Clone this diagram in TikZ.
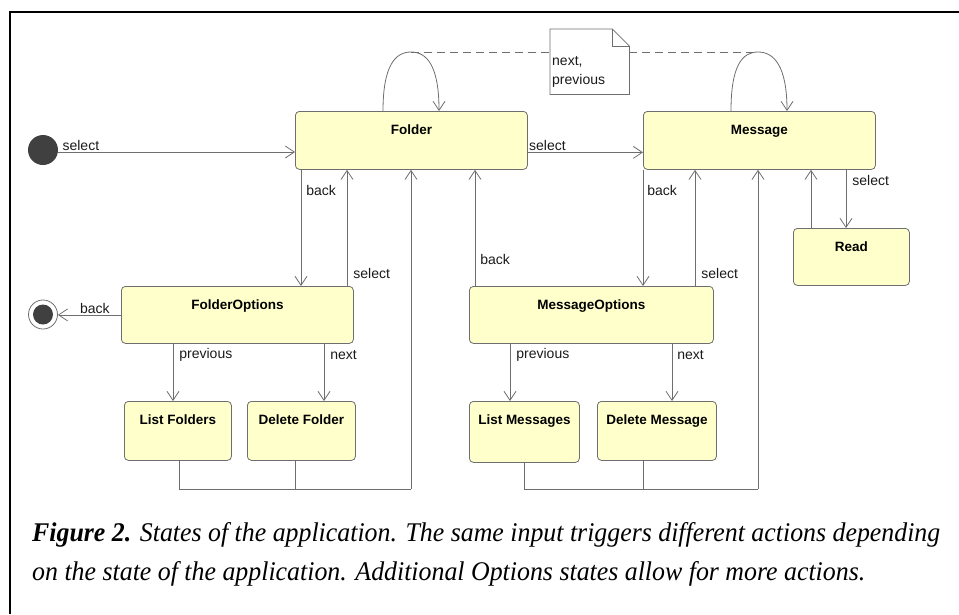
\documentclass[tikz,border=0pt]{standalone}
\usepackage{fontspec}
\setmainfont{Liberation Serif}
\newfontfamily\diagfont{Liberation Sans}
\usetikzlibrary{arrows.meta,calc}
\definecolor{statefill}{HTML}{FFFFCC}
\definecolor{edgegray}{HTML}{6E6E6E}
\definecolor{dotgray}{HTML}{404040}
\definecolor{labelink}{HTML}{1A1A1A}
\begin{document}
\begin{tikzpicture}[x=1pt,y=-1pt,
  state/.style={draw=edgegray, fill=statefill, rounded corners=4pt, anchor=north west,
    inner xsep=0pt, inner ysep=0pt, text height=23pt, line width=0.8pt,
    font=\diagfont\fontsize{13.5}{15}\selectfont\bfseries},
  arr/.style={draw=edgegray, line width=0.8pt, -{Straight Barb[length=9pt,width=12pt]}},
  wire/.style={draw=edgegray, line width=0.8pt},
  lbl/.style={inner sep=1pt, text=labelink, font=\diagfont\fontsize{14}{19}\selectfont},
  notelink/.style={draw=edgegray, line width=0.8pt, dash pattern=on 8pt off 5pt},
  caption/.style={inner sep=0pt, anchor=base west, font=\fontsize{27}{32}\selectfont\itshape}
]
\useasboundingbox (0,0) rectangle (959,614);

% frame
\draw[line width=2pt] (10,614) -- (10,12) -- (959,12);

% states
\node[state, minimum width=232pt, minimum height=58pt, text depth=35pt] (folder) at (295,111) {Folder};
\node[state, minimum width=232pt, minimum height=58pt, text depth=35pt] (message) at (643,111) {Message};
\node[state, minimum width=116pt, minimum height=57pt, text depth=34pt] (read) at (793,228) {Read};
\node[state, minimum width=232pt, minimum height=57pt, text depth=34pt] (fopt) at (121,286) {FolderOptions};
\node[state, minimum width=244pt, minimum height=57pt, text depth=34pt] (mopt) at (469,286) {MessageOptions};
\node[state, minimum width=107pt, minimum height=59pt, text depth=36pt] (listf) at (124,401) {List Folders};
\node[state, minimum width=108pt, minimum height=59pt, text depth=36pt] (delf) at (247,401) {Delete Folder};
\node[state, minimum width=110pt, minimum height=61pt, text depth=38pt] (listm) at (469,401) {List Messages};
\node[state, minimum width=119pt, minimum height=59pt, text depth=36pt] (delm) at (597,401) {Delete Message};

% initial and final pseudo-states
\node[circle, fill=dotgray, inner sep=0pt, minimum size=30pt] (init) at (43,150) {};
\node[circle, draw=edgegray, fill=white, line width=0.8pt, inner sep=0pt, minimum size=29pt,
  path picture={\fill[dotgray] (path picture bounding box.center) circle (10pt);}] (final) at (43,314.5) {};

% junction points and loop tops
\coordinate (fj) at (411,489);
\coordinate (mj) at (758,489);
\coordinate (ftop) at (411,52);
\coordinate (mtop) at (758,52);

% note linking the two self loops
\node[inner sep=0pt, minimum width=79pt, minimum height=65pt, anchor=north west] (note) at (550,29) {};
\draw[notelink] (ftop) -- (note.west |- ftop);
\draw[notelink] (note.east |- mtop) -- (mtop);
\draw[draw=edgegray, fill=white, line width=0.8pt]
  (note.north west) -- ([xshift=-17pt]note.north east) -- ([yshift=-17pt]note.north east)
  -- (note.south east) -- (note.south west) -- cycle;
\draw[draw=edgegray, line width=0.8pt] ([xshift=-17pt]note.north east) |- ([yshift=-17pt]note.north east);
\node[lbl, align=left, anchor=west] (notetext) at (551,72) {next,\\previous};

% self loops
\draw[arr] ([xshift=88pt]folder.north west) .. controls +(0,-45) and +(-16,0) .. (ftop)
  .. controls +(16,0) and +(0,-45) .. ([xshift=144pt]folder.north west);
\draw[arr] ([xshift=88pt]message.north west) .. controls +(0,-45) and +(-16,0) .. (mtop)
  .. controls +(16,0) and +(0,-45) .. ([xshift=144pt]message.north west);

% transitions
\draw[arr] ([yshift=-2pt]init.east) -- ([yshift=-2pt]init.east -| folder.west)
  node[lbl, pos=0, anchor=south west, xshift=3pt] {select};
\draw[arr] ([yshift=-12pt]folder.east) -- ([yshift=-12pt]folder.east -| message.west)
  node[lbl, pos=0, anchor=south west] {select};

\draw[arr] ([xshift=6pt]folder.south west) -- ([xshift=6pt]folder.south west |- fopt.north)
  node[lbl, pos=0.18, anchor=west, xshift=4pt] {back};
\draw[arr] ([xshift=226pt]fopt.north west) -- ([xshift=226pt]fopt.north west |- folder.south)
  node[lbl, pos=0.11, anchor=west, xshift=5pt] {select};
\draw[arr] ([xshift=6pt]mopt.north west) -- ([xshift=6pt]mopt.north west |- folder.south)
  node[lbl, pos=0.23, anchor=west, xshift=4pt] {back};
\draw[arr] (fopt.west) -- (fopt.west -| final.east)
  node[lbl, pos=0, anchor=south east, xshift=-10pt] {back};

\draw[arr] ([xshift=52pt]fopt.south west) -- ([xshift=52pt]fopt.south west |- listf.north)
  node[lbl, pos=0.2, anchor=west, xshift=5pt] {previous};
\draw[arr] ([xshift=203pt]fopt.south west) -- ([xshift=203pt]fopt.south west |- delf.north)
  node[lbl, pos=0.2, anchor=west, xshift=5pt] {next};

\draw[wire] ([xshift=55pt]listf.south west) |- (fj);
\draw[wire] ([xshift=48pt]delf.south west) -- ([xshift=48pt]delf.south west |- fj);
\draw[arr] (fj) -- (fj |- folder.south);

\draw[arr] (message.south west) -- (message.south west |- mopt.north)
  node[lbl, pos=0.18, anchor=west, xshift=3pt] {back};
\draw[arr] ([xshift=226pt]mopt.north west) -- ([xshift=226pt]mopt.north west |- message.south)
  node[lbl, pos=0.11, anchor=west, xshift=5pt] {select};
\draw[arr] ([xshift=18pt]read.north west) -- ([xshift=18pt]read.north west |- message.south);
\draw[arr] ([xshift=203pt]message.south west) -- ([xshift=203pt]message.south west |- read.north)
  node[lbl, pos=0.19, anchor=west, xshift=5pt] {select};

\draw[arr] ([xshift=41pt]mopt.south west) -- ([xshift=41pt]mopt.south west |- listm.north)
  node[lbl, pos=0.2, anchor=west, xshift=5pt] {previous};
\draw[arr] ([xshift=203pt]mopt.south west) -- ([xshift=203pt]mopt.south west |- delm.north)
  node[lbl, pos=0.2, anchor=west, xshift=4pt] {next};

\draw[wire] ([xshift=55pt]listm.south west) |- (mj);
\draw[wire] ([xshift=46pt]delm.south west) -- ([xshift=46pt]delm.south west |- mj);
\draw[arr] (mj) -- (mj |- message.south);

% caption, set in a narrowed italic
\node[caption] (cap1) at (32,541) {\resizebox{908pt}{\height}{\textbf{Figure 2.} States of the application. The same input triggers different actions depending}};
\node[caption] (cap2) at (32,580) {\resizebox{833pt}{\height}{on the state of the application. Additional Options states allow for more actions.}};
\end{tikzpicture}
\end{document}
